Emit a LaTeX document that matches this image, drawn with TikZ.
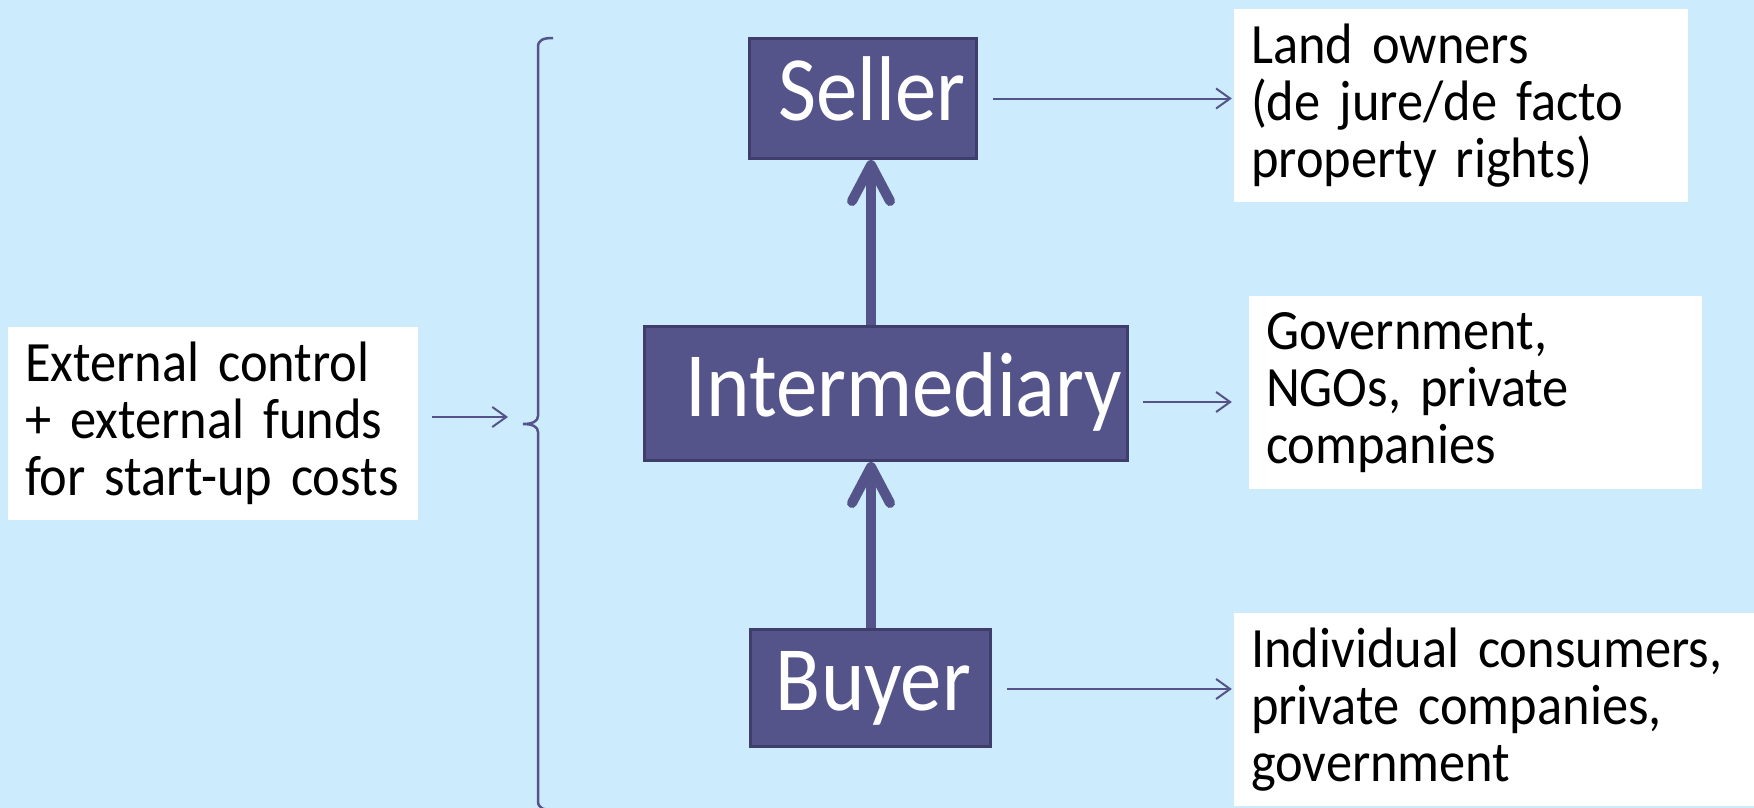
\documentclass[tikz,border=0pt]{standalone}
\usepackage{fontspec}
\setmainfont{Carlito}
\newfontfamily\narrowfont[FakeStretch=0.9]{Carlito}
\newfontfamily\bodyfont[FakeStretch=0.92]{Carlito}
\usetikzlibrary{arrows.meta}
\definecolor{bg}{HTML}{CCEBFC}
\definecolor{boxfill}{HTML}{55548A}
\definecolor{boxedge}{HTML}{3F3D6B}
\definecolor{linkcol}{HTML}{55548A}

\begin{document}
\begin{tikzpicture}[x=1pt,y=-1pt,
  rolebox/.style={draw=boxedge, line width=3pt, fill=boxfill, text=white, inner sep=0pt,
    font=\narrowfont\fontsize{92pt}{98pt}\selectfont, text height=50pt, text depth=5pt},
  infobox/.style={fill=white, inner xsep=17pt, inner ysep=0pt, align=left,
    font=\bodyfont\fontsize{57pt}{57pt}\selectfont, minimum height=193pt},
  flow/.style={draw=linkcol, line width=10pt, -{Straight Barb[length=36pt,width=38pt,round]}},
  pointer/.style={draw=linkcol, line width=2pt, -{Straight Barb[length=14pt,width=20pt]}},
]
\useasboundingbox (0,0) rectangle (1754,808);
\clip (0,0) rectangle (1754,808);
\fill[bg] (0,0) rectangle (1754,808);

% the three market roles
\node[rolebox, minimum width=227pt, minimum height=120pt] (seller) at (863,98.5) {\hspace*{18pt}Seller};
\node[rolebox, minimum width=483pt, minimum height=134pt] (broker) at (886,393.5) {\hspace*{36pt}Intermediary};
\node[rolebox, minimum width=240pt, minimum height=117pt] (buyer) at (870.5,688) {\hspace*{6pt}Buyer};

% who takes each role
\node[infobox, minimum width=454pt, text width=420pt] (owners) at (1461,105.5)
  {Land owners\\(de jure/de facto\\property rights)};
\node[infobox, minimum width=453pt, text width=419pt] (agents) at (1475.5,392.5)
  {Government,\\NGOs, private\\companies};
\node[infobox, minimum width=526pt, text width=492pt] (users) at (1497,709.5)
  {Individual consumers,\\private companies,\\government};
\node[infobox, minimum width=410pt, text width=376pt] (support) at (213,423)
  {External control\\+ external funds\\for start-up costs};

% brace grouping the roles
\coordinate (bracetip) at (523,424);
\draw[linkcol, line width=2.5pt]
  (553,38) .. controls (543,38) and (538,40) .. (538,47)
  -- (538,416) .. controls (538,421) and (533,424) .. (bracetip)
  .. controls (533,424) and (538,427) .. (538,432)
  -- (538,801) .. controls (538,808) and (543,810) .. (553,810);

% flow between the roles
\draw[flow] ([xshift=-15pt]broker.north) -- ([xshift=-15pt]broker.north |- seller.south);
\draw[flow] ([xshift=0.5pt]buyer.north) -- ([xshift=0.5pt]buyer.north |- broker.south);

% pointers to the actors
\draw[pointer, shorten <=15pt, shorten >=2pt] (seller.east) -- (seller.east -| owners.west);
\draw[pointer, shorten <=14pt, shorten >=17pt] ([yshift=-8.5pt]broker.east) -- ([yshift=-8.5pt]broker.east -| agents.west);
\draw[pointer, shorten <=15pt, shorten >=2pt] ([yshift=-1pt]buyer.east) -- ([yshift=-1pt]buyer.east -| users.west);
\draw[pointer, shorten <=14pt, shorten >=15pt] ([yshift=6pt]support.east) -- ([yshift=6pt]support.east -| bracetip);
\end{tikzpicture}
\end{document}
